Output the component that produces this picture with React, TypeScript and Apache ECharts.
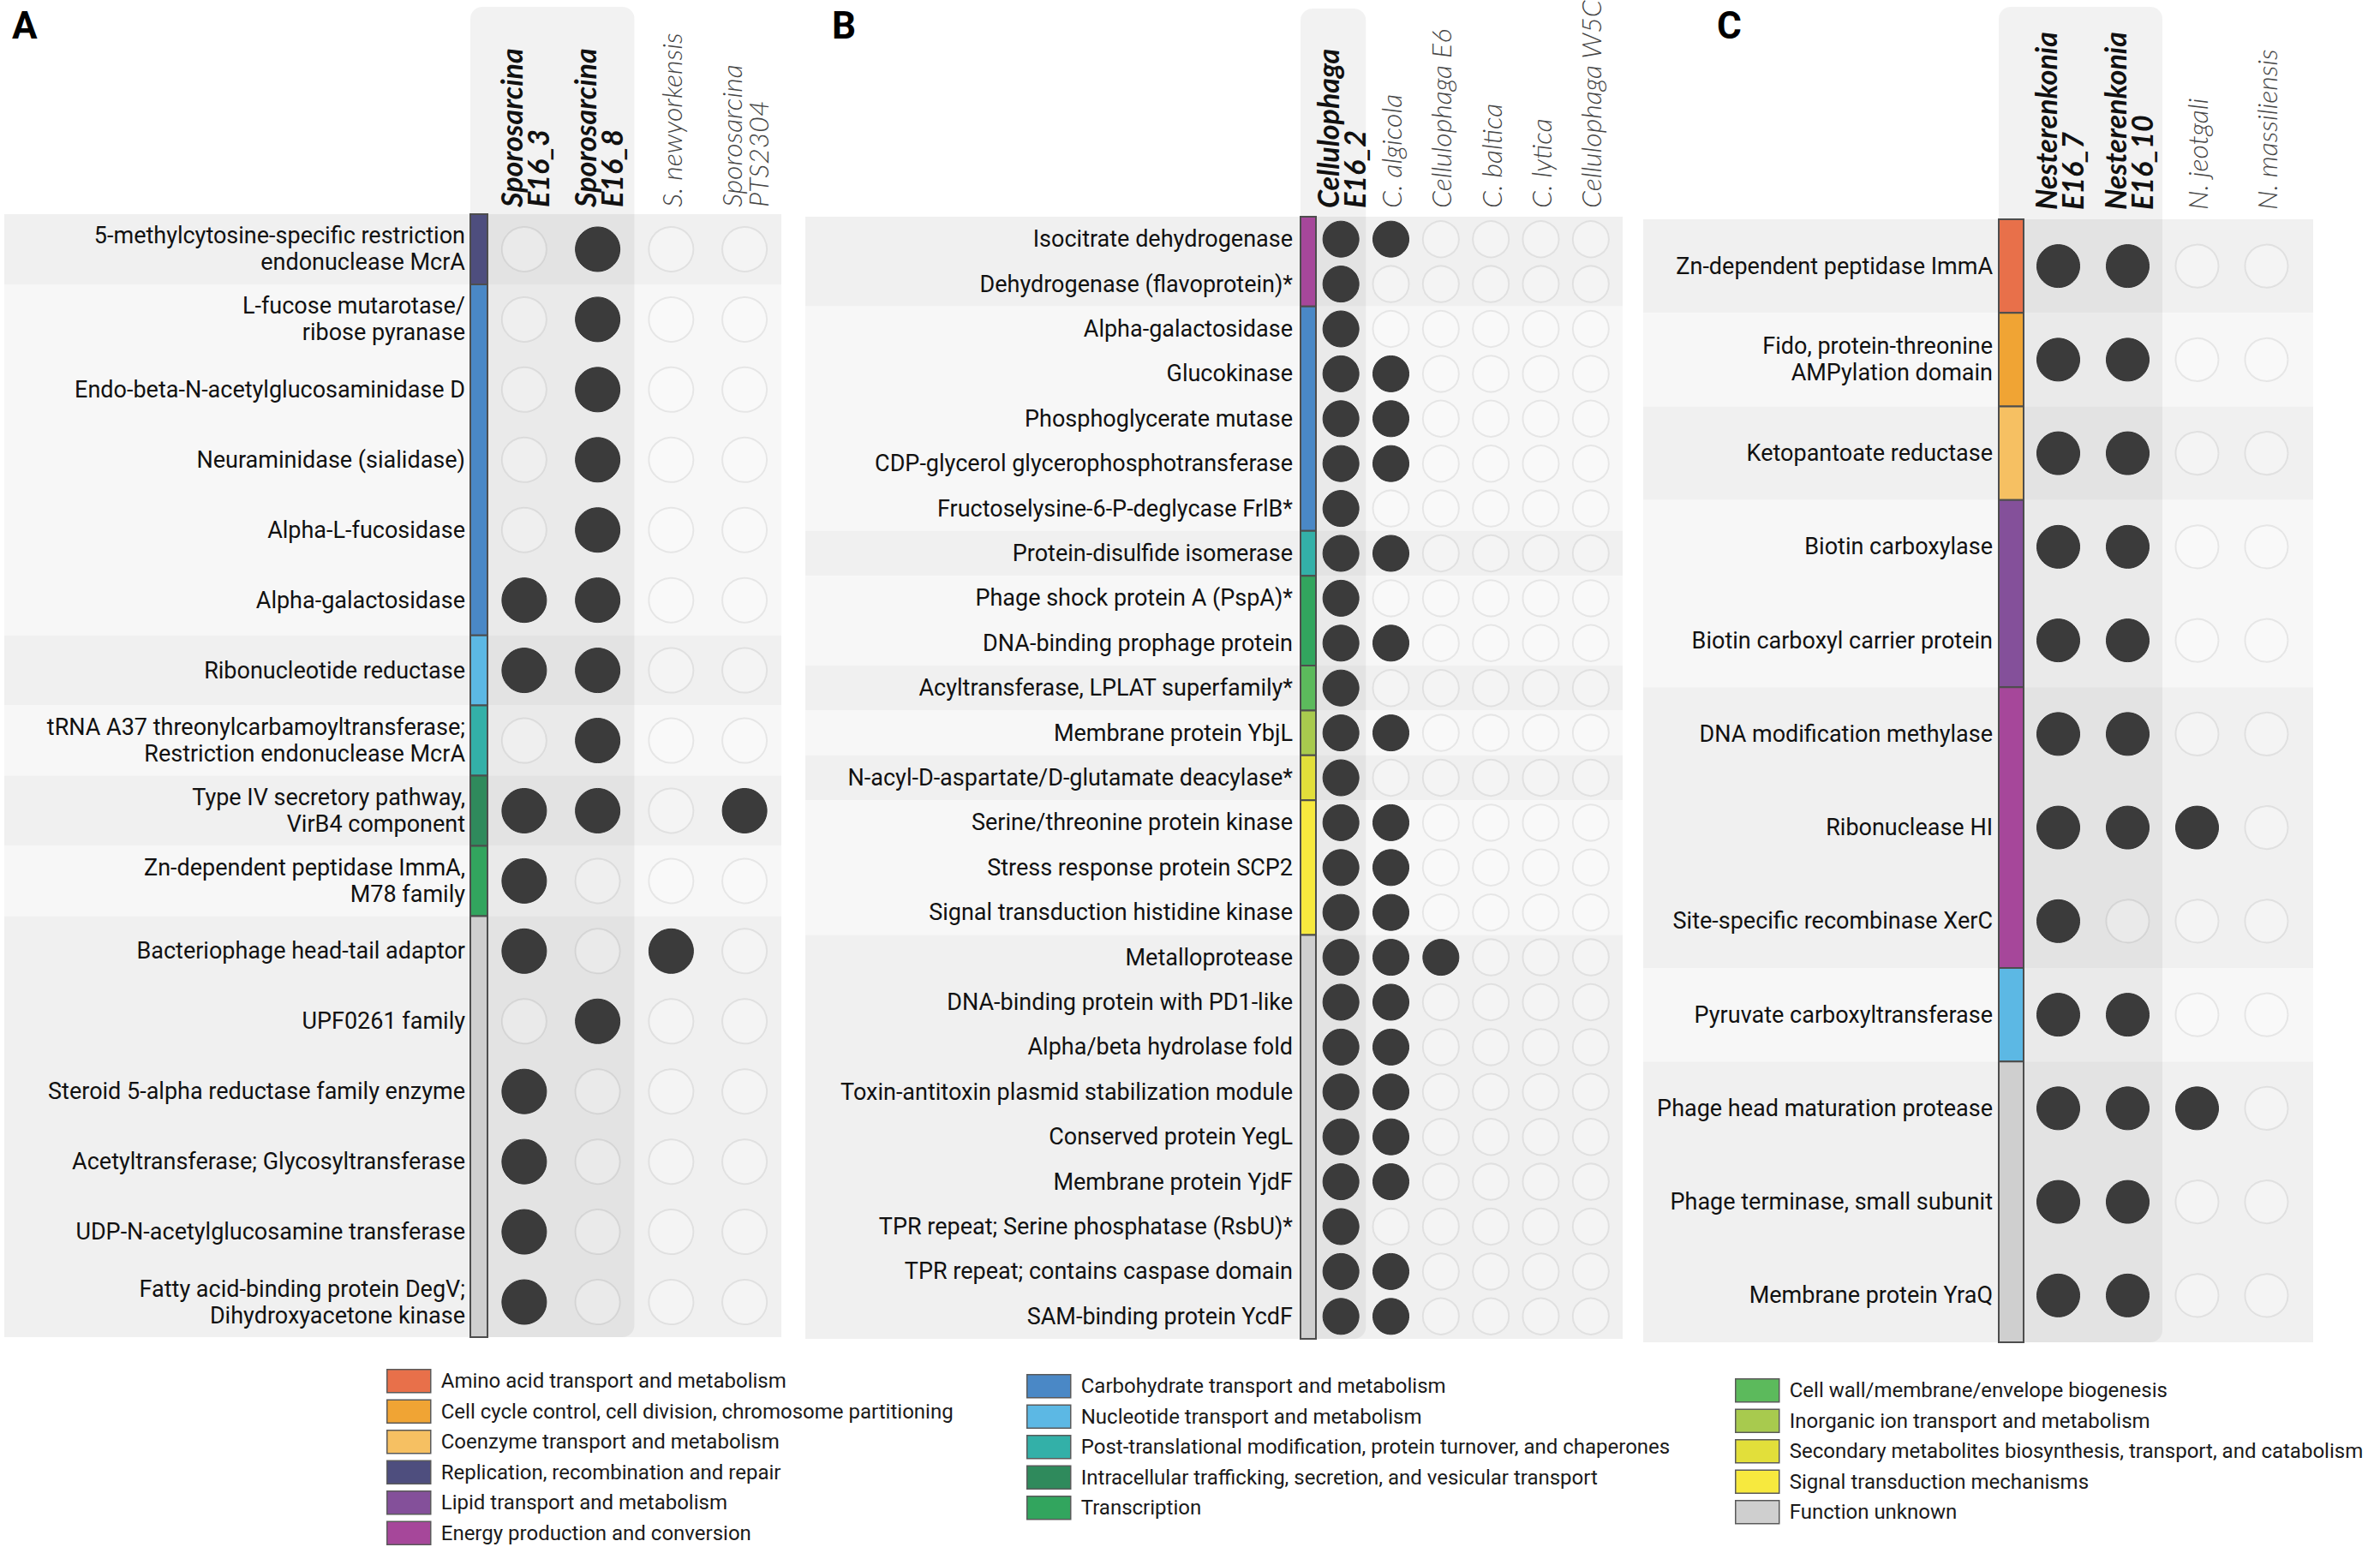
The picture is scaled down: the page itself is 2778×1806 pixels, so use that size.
import React, { useEffect, useRef } from "react";
import * as echarts from "echarts";

// ---------------- DATA ----------------
const catKeys = [
  "amino", "cellcycle", "coenzyme", "replication", "lipid", "energy",
  "carb", "nucleotide", "posttrans", "intracellular", "transcription",
  "cellwall", "inorganic", "secondary", "signal", "unknown",
];
const catLabels = [
  "Amino acid transport and metabolism",
  "Cell cycle control, cell division, chromosome partitioning",
  "Coenzyme transport and metabolism",
  "Replication, recombination and repair",
  "Lipid transport and metabolism",
  "Energy production and conversion",
  "Carbohydrate transport and metabolism",
  "Nucleotide transport and metabolism",
  "Post-translational modification, protein turnover, and chaperones",
  "Intracellular trafficking, secretion, and vesicular transport",
  "Transcription",
  "Cell wall/membrane/envelope biogenesis",
  "Inorganic ion transport and metabolism",
  "Secondary metabolites biosynthesis, transport, and catabolism",
  "Signal transduction mechanisms",
  "Function unknown",
];
const catColors = [
  "#e8704a", "#f0a434", "#f6c062", "#4e4e7e", "#84509a", "#a6479a",
  "#4a88c6", "#5cb8e4", "#33b0a8", "#2f8a5c", "#32a55e",
  "#5cba5c", "#a8ca4e", "#e2df3a", "#f7e93e", "#cfcfcf",
];
const legendCol1 = ["amino", "cellcycle", "coenzyme", "replication", "lipid", "energy"];
const legendCol2 = ["carb", "nucleotide", "posttrans", "intracellular", "transcription"];
const legendCol3 = ["cellwall", "inorganic", "secondary", "signal", "unknown"];

// Panel A
const speciesA = ["Sporosarcina\nE16_3", "Sporosarcina\nE16_8", "S. newyorkensis", "Sporosarcina\nPTS2304"];
const genesA = [
  "5-methylcytosine-specific restriction\nendonuclease McrA",
  "L-fucose mutarotase/\nribose pyranase",
  "Endo-beta-N-acetylglucosaminidase D",
  "Neuraminidase (sialidase)",
  "Alpha-L-fucosidase",
  "Alpha-galactosidase",
  "Ribonucleotide reductase",
  "tRNA A37 threonylcarbamoyltransferase;\nRestriction endonuclease McrA",
  "Type IV secretory pathway,\nVirB4 component",
  "Zn-dependent peptidase ImmA,\nM78 family",
  "Bacteriophage head-tail adaptor",
  "UPF0261 family",
  "Steroid 5-alpha reductase family enzyme",
  "Acetyltransferase; Glycosyltransferase",
  "UDP-N-acetylglucosamine transferase",
  "Fatty acid-binding protein DegV;\nDihydroxyacetone kinase",
];
const catsA = [
  "replication", "carb", "carb", "carb", "carb", "carb", "nucleotide", "posttrans",
  "intracellular", "transcription", "unknown", "unknown", "unknown", "unknown", "unknown", "unknown",
];
const presenceA = [
  [0, 1, 0, 0], [0, 1, 0, 0], [0, 1, 0, 0], [0, 1, 0, 0], [0, 1, 0, 0], [1, 1, 0, 0],
  [1, 1, 0, 0], [0, 1, 0, 0], [1, 1, 0, 1], [1, 0, 0, 0], [1, 0, 1, 0], [0, 1, 0, 0],
  [1, 0, 0, 0], [1, 0, 0, 0], [1, 0, 0, 0], [1, 0, 0, 0],
];

// Panel B
const speciesB = ["Cellulophaga\nE16_2", "C. algicola", "Cellulophaga E6", "C. baltica", "C. lytica", "Cellulophaga W5C"];
const genesB = [
  "Isocitrate dehydrogenase",
  "Dehydrogenase (flavoprotein)*",
  "Alpha-galactosidase",
  "Glucokinase",
  "Phosphoglycerate mutase",
  "CDP-glycerol glycerophosphotransferase",
  "Fructoselysine-6-P-deglycase FrlB*",
  "Protein-disulfide isomerase",
  "Phage shock protein A (PspA)*",
  "DNA-binding prophage protein",
  "Acyltransferase, LPLAT superfamily*",
  "Membrane protein YbjL",
  "N-acyl-D-aspartate/D-glutamate deacylase*",
  "Serine/threonine protein kinase",
  "Stress response protein SCP2",
  "Signal transduction histidine kinase",
  "Metalloprotease",
  "DNA-binding protein with PD1-like",
  "Alpha/beta hydrolase fold",
  "Toxin-antitoxin plasmid stabilization module",
  "Conserved protein YegL",
  "Membrane protein YjdF",
  "TPR repeat; Serine phosphatase (RsbU)*",
  "TPR repeat; contains caspase domain",
  "SAM-binding protein YcdF",
];
const catsB = [
  "energy", "energy", "carb", "carb", "carb", "carb", "carb", "posttrans",
  "transcription", "transcription", "cellwall", "inorganic", "secondary",
  "signal", "signal", "signal",
  "unknown", "unknown", "unknown", "unknown", "unknown", "unknown", "unknown", "unknown", "unknown",
];
const presenceB = [
  [1, 1, 0, 0, 0, 0], [1, 0, 0, 0, 0, 0], [1, 0, 0, 0, 0, 0], [1, 1, 0, 0, 0, 0],
  [1, 1, 0, 0, 0, 0], [1, 1, 0, 0, 0, 0], [1, 0, 0, 0, 0, 0], [1, 1, 0, 0, 0, 0],
  [1, 0, 0, 0, 0, 0], [1, 1, 0, 0, 0, 0], [1, 0, 0, 0, 0, 0], [1, 1, 0, 0, 0, 0],
  [1, 0, 0, 0, 0, 0], [1, 1, 0, 0, 0, 0], [1, 1, 0, 0, 0, 0], [1, 1, 0, 0, 0, 0],
  [1, 1, 1, 0, 0, 0], [1, 1, 0, 0, 0, 0], [1, 1, 0, 0, 0, 0], [1, 1, 0, 0, 0, 0],
  [1, 1, 0, 0, 0, 0], [1, 1, 0, 0, 0, 0], [1, 0, 0, 0, 0, 0], [1, 1, 0, 0, 0, 0],
  [1, 1, 0, 0, 0, 0],
];

// Panel C
const speciesC = ["Nesterenkonia\nE16_7", "Nesterenkonia\nE16_10", "N. jeotgali", "N. massiliensis"];
const genesC = [
  "Zn-dependent peptidase ImmA",
  "Fido, protein-threonine\nAMPylation domain",
  "Ketopantoate reductase",
  "Biotin carboxylase",
  "Biotin carboxyl carrier protein",
  "DNA modification methylase",
  "Ribonuclease HI",
  "Site-specific recombinase XerC",
  "Pyruvate carboxyltransferase",
  "Phage head maturation protease",
  "Phage terminase, small subunit",
  "Membrane protein YraQ",
];
const catsC = [
  "amino", "cellcycle", "coenzyme", "lipid", "lipid", "energy", "energy", "energy",
  "nucleotide", "unknown", "unknown", "unknown",
];
const presenceC = [
  [1, 1, 0, 0], [1, 1, 0, 0], [1, 1, 0, 0], [1, 1, 0, 0], [1, 1, 0, 0], [1, 1, 0, 0],
  [1, 1, 1, 0], [1, 0, 0, 0], [1, 1, 0, 0], [1, 1, 1, 0], [1, 1, 0, 0], [1, 1, 0, 0],
];

// ---------------- LAYOUT ----------------
const W = 2778;
const H = 1806;

const panels = [
  {
    letter: "A", letterX: 14, species: speciesA, genes: genesA, cats: catsA, pres: presenceA, highlight: 2,
    grid: { left: 569, top: 250, width: 343, height: 1311 },
    barW: 20, bandLeft: 564, bandRight: 0, dot: 52, labelMargin: 26, headMargin: 8, boxTop: 8,
  },
  {
    letter: "B", letterX: 971, species: speciesB, genes: genesB, cats: catsB, pres: presenceB, highlight: 1,
    grid: { left: 1536, top: 253, width: 350, height: 1310 },
    barW: 18, bandLeft: 596, bandRight: 8, dot: 42, labelMargin: 27, headMargin: 10, boxTop: 10,
  },
  {
    letter: "C", letterX: 2004, species: speciesC, genes: genesC, cats: catsC, pres: presenceC, highlight: 2,
    grid: { left: 2362, top: 256, width: 324, height: 1311 },
    barW: 29, bandLeft: 444, bandRight: 14, dot: 50, labelMargin: 36, headMargin: 11, boxTop: 8,
  },
];

function runs(cats: string[]) {
  const out: { cat: string; start: number; end: number }[] = [];
  cats.forEach((c, i) => {
    const last = out[out.length - 1];
    if (last && last.cat === c) last.end = i;
    else out.push({ cat: c, start: i, end: i });
  });
  return out;
}

function colorOf(key: string) {
  return catColors[catKeys.indexOf(key)];
}
function labelOf(key: string) {
  return catLabels[catKeys.indexOf(key)];
}

function buildOption() {
  const grids: any[] = [];
  const xAxes: any[] = [];
  const yAxes: any[] = [];
  const series: any[] = [];
  const titles: any[] = [];

  panels.forEach((p, gi) => {
    grids.push({ ...p.grid, containLabel: false });
    titles.push({
      text: p.letter, left: p.letterX, top: 8, padding: 0,
      textStyle: { fontSize: 44, fontWeight: "bold", fontFamily: "Roboto", color: "#000" },
    });
    xAxes.push({
      type: "category", gridIndex: gi, position: "top", z: 10, data: p.species,
      axisLine: { show: false }, axisTick: { show: false }, splitLine: { show: false },
      axisLabel: { show: false },
    });
    yAxes.push({
      type: "category", gridIndex: gi, inverse: true, z: 10, data: p.genes,
      axisLine: { show: false }, axisTick: { show: false }, splitLine: { show: false },
      axisLabel: {
        interval: 0, margin: p.labelMargin, fontSize: 27, lineHeight: 31,
        fontFamily: "Roboto", color: "#111", align: "right",
      },
    });

    const groups = runs(p.cats);

    // row bands
    series.push({
      type: "custom", xAxisIndex: gi, yAxisIndex: gi, z: 1, silent: true, clip: false,
      data: groups.map((g) => [0, g.start, g.end]),
      renderItem: (params: any, api: any) => {
        const cs = params.coordSys;
        const g = groups[params.dataIndex];
        const h = api.size([0, 1])[1];
        const y0 = api.coord([0, g.start])[1] - h / 2;
        const y1 = api.coord([0, g.end])[1] + h / 2;
        return {
          type: "rect",
          shape: { x: cs.x - p.bandLeft, y: y0, width: cs.width + p.bandLeft + p.bandRight, height: y1 - y0 },
          style: { fill: params.dataIndex % 2 === 0 ? "#f0f0f0" : "#f7f7f7" },
        };
      },
    });

    // highlight box for the isolates
    series.push({
      type: "custom", xAxisIndex: gi, yAxisIndex: gi, z: 2, silent: true, clip: false,
      data: [[p.highlight - 1, 0]],
      renderItem: (params: any, api: any) => {
        const cs = params.coordSys;
        const w = api.size([1, 0])[0];
        const x1 = api.coord([api.value(0), 0])[0] + w / 2;
        const x0 = cs.x - p.barW;
        return {
          type: "rect",
          shape: { x: x0, y: p.boxTop, width: x1 - x0, height: cs.y + cs.height - p.boxTop, r: 14 },
          style: { fill: "rgba(0,0,0,0.05)" },
        };
      },
    });

    // COG colour bar
    series.push({
      type: "custom", xAxisIndex: gi, yAxisIndex: gi, z: 3, silent: true, clip: false,
      data: groups.map((g) => [0, g.start, g.end]),
      renderItem: (params: any, api: any) => {
        const cs = params.coordSys;
        const g = groups[params.dataIndex];
        const h = api.size([0, 1])[1];
        const y0 = api.coord([0, g.start])[1] - h / 2;
        const y1 = api.coord([0, g.end])[1] + h / 2;
        return {
          type: "rect",
          shape: { x: cs.x - p.barW, y: y0, width: p.barW, height: y1 - y0 },
          style: { fill: colorOf(g.cat), stroke: "#4d4d4d", lineWidth: 2 },
        };
      },
    });

    // rotated species headers
    series.push({
      type: "custom", xAxisIndex: gi, yAxisIndex: gi, z: 6, silent: true, clip: false,
      data: p.species.map((_, i) => [i, 0]),
      renderItem: (params: any, api: any) => {
        const cs = params.coordSys;
        const i = params.dataIndex;
        const x = api.coord([i, 0])[0];
        const bold = i < p.highlight;
        return {
          type: "text",
          x: x,
          y: cs.y - p.headMargin,
          rotation: Math.PI / 2,
          style: {
            text: p.species[i],
            align: "left",
            verticalAlign: "middle",
            textAlign: "left",
            textVerticalAlign: "middle",
            fontSize: bold ? 34 : 32,
            lineHeight: 31,
            fontFamily: "Lato",
            fontStyle: "italic",
            fontWeight: bold ? "bold" : 300,
            fill: bold ? "#111" : "#444",
          },
        };
      },
    });

    const present: number[][] = [];
    const absent: number[][] = [];
    p.pres.forEach((row, r) => row.forEach((v, c) => (v ? present : absent).push([c, r])));

    series.push({
      type: "scatter", xAxisIndex: gi, yAxisIndex: gi, z: 4, silent: true,
      symbolSize: p.dot, data: absent,
      itemStyle: { color: "rgba(255,255,255,0.25)", borderColor: "rgba(0,0,0,0.07)", borderWidth: 2, opacity: 1 },
    });
    series.push({
      type: "scatter", xAxisIndex: gi, yAxisIndex: gi, z: 5, silent: true,
      symbolSize: p.dot, data: present,
      itemStyle: { color: "#3b3b3b", borderColor: "#333", borderWidth: 1, opacity: 1 },
    });
  });

  // dummy series for the legend
  catKeys.forEach((k) => {
    series.push({
      type: "scatter", name: labelOf(k), xAxisIndex: 0, yAxisIndex: 0, data: [],
      itemStyle: { color: colorOf(k), opacity: 1 },
    });
  });

  const legendBase = {
    orient: "vertical", itemWidth: 51, itemHeight: 27, itemGap: 7, icon: "rect",
    selectedMode: false, padding: 0, height: 210,
    textStyle: { fontSize: 24, lineHeight: 26, fontFamily: "Roboto", color: "#1a1a1a", padding: [0, 0, 0, 7] },
    itemStyle: { borderColor: "#5a5a5a", borderWidth: 1.5 },
  };
  const legends = [
    { ...legendBase, left: 451, top: 1598, data: legendCol1.map(labelOf) },
    { ...legendBase, left: 1198, top: 1604, data: legendCol2.map(labelOf) },
    { ...legendBase, left: 2025, top: 1609, data: legendCol3.map(labelOf) },
  ];

  return {
    animation: false,
    backgroundColor: "#ffffff",
    title: titles,
    grid: grids,
    xAxis: xAxes,
    yAxis: yAxes,
    legend: legends,
    series,
  };
}

export default function App() {
  const ref = useRef<HTMLDivElement>(null);
  useEffect(() => {
    document.body.style.margin = "0";
    if (!ref.current) return;
    const chart = echarts.init(ref.current, undefined, { renderer: "svg" });
    chart.setOption(buildOption() as any);
    return () => chart.dispose();
  }, []);
  return <div ref={ref} style={{ width: W, height: H }} />;
}
